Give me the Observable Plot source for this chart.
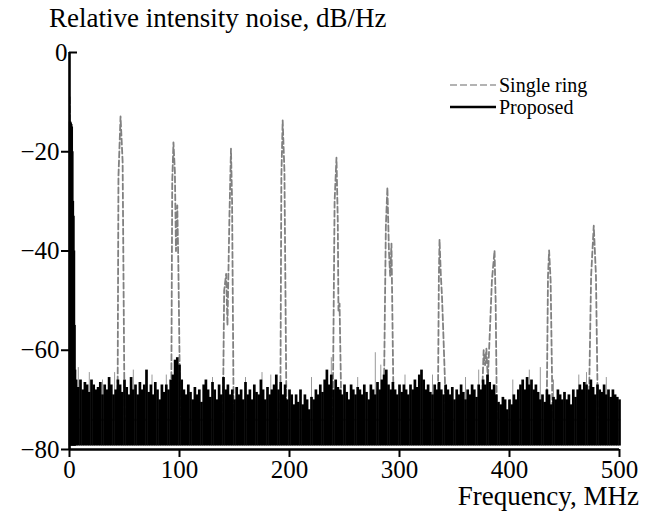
<!DOCTYPE html>
<html><head><meta charset="utf-8">
<script src="https://cdn.jsdelivr.net/npm/d3@7"></script>
<script src="https://cdn.jsdelivr.net/npm/@observablehq/plot@0.6"></script>
<style>
body{margin:0;background:#fff;}
#wrap{position:relative;width:652px;height:516px;font-family:"Liberation Serif","Times New Roman",Times,"DejaVu Serif",serif;color:#000;}
.t{position:absolute;white-space:nowrap;}
.lg{display:flex;align-items:center;height:22px;}
.lg svg{margin-right:3px;}
</style></head><body>
<div id="wrap">
  <div id="chart"></div>
  <div class="t" style="left:49px;top:3px;font-size:27px;">Relative intensity noise, dB/Hz</div>
  <div class="t" style="right:13px;top:481px;font-size:27px;">Frequency, MHz</div>
  <div class="t" id="legend" style="left:450px;top:74px;font-size:20px;"></div>
</div>
<script>
// ---- data ----
const xTicks = [0, 100, 200, 300, 400, 500];
const yTicks = [0, -20, -40, -60, -80];
const seriesNames = ["Single ring", "Proposed"];

// Single ring (grey dashed) trace: frequency (MHz) and level (dB/Hz)
const singleFreq = [
  0.3, 1.2, 2.5,
  43.5, 43.8, 44.5, 46.4, 48.3, 49.8, 50.2,
  92.3, 92.6, 93.4, 94.5, 95.8, 96.8, 98.0, 98.9, 100.3, 100.6,
  139.5, 139.8, 140.6, 142.4, 143.6, 145.4, 146.8, 147.8, 149.0, 149.3,
  191.5, 191.8, 192.6, 193.8, 195.4, 197.0, 197.3,
  239.3, 239.6, 241.0, 242.7, 243.9, 244.5, 245.5, 246.7, 247.0,
  285.8, 286.1, 287.6, 289.0, 290.4, 291.5, 292.7, 294.3, 294.6,
  334.8, 335.1, 335.8, 336.4, 337.6, 338.6, 339.6, 341.3, 341.6,
  375.3, 375.6, 376.5, 377.8, 379.0, 380.3, 382.2, 384.0, 386.4, 387.4, 388.2, 388.5,
  433.8, 434.1, 435.0, 436.0, 437.4, 438.7, 439.0,
  472.3, 472.6, 474.2, 476.6, 478.6, 479.9, 480.2,
  500
];
const singleLevel = [
  -9, -30, -74,
  -74, -66, -25, -12.9, -22, -66, -74,
  -74, -66, -26, -18.1, -24, -40, -30.8, -42, -66, -74,
  -74, -66, -48, -44.6, -55, -33, -19.4, -30, -66, -74,
  -74, -66, -25, -13.7, -24, -66, -74,
  -74, -66, -30, -21.2, -34, -52, -50.6, -66, -74,
  -74, -64, -35, -27.2, -40, -45, -38.5, -66, -74,
  -74, -66, -45, -37.7, -45, -49, -55, -66, -74,
  -74, -66, -60, -63, -59.7, -66, -56, -46, -39.9, -50, -66, -74,
  -74, -66, -45, -39.9, -46, -66, -74,
  -74, -66, -45, -34.9, -45, -66, -74,
  -74
];

// Single ring noise spikes that rise above the black band
const singleNoiseFreq = [8, 18, 30, 41, 58, 75, 88, 130, 160, 175, 183, 220, 238, 262, 278, 283, 305, 330, 360, 372, 403, 418, 428, 440, 463, 470, 488];
const singleNoiseLevel = [-63.5, -64.5, -66, -64.5, -64, -65, -65, -65.5, -65.5, -64.5, -65, -65.5, -61.5, -65.5, -60.5, -63, -65, -65, -65.5, -64, -66, -64, -63.5, -66, -65, -64.5, -65.5];

// Proposed: low-frequency spike
const proposedLowFreq = [0.3, 0.8, 1.3, 1.8, 2.3, 2.8, 3.3, 3.8, 4.3, 4.8, 5.3];
const proposedLowLevel = [-14, -14, -14.2, -14.5, -15, -20, -30, -33, -40, -55, -64];

// Proposed: noise band tops, every 2 MHz from 6 to 500 MHz
const proposedNoiseStart = 6, proposedNoiseStep = 2;
const proposedNoise = [
  -66,-67.5,-66,-68,-66.5,-67,-68.5,-66,-67,-68,
  -67.5,-66.5,-69,-67,-68,-65.5,-67,-69,-68,-66,
  -67,-68.5,-66,-67.5,-69,-65.5,-68,-67,-69,-66.5,
  -68,-67,-64,-68.5,-67,-69,-66.5,-68,-70,-67,
  -68.5,-67,-68,-66,-65,-62,-61.5,-63,-66,-68,
  -69,-67,-68.5,-70,-67.5,-69,-68,-70.5,-67,-66,
  -68,-69.5,-66.5,-68,-70,-67,-69,-65.5,-68,-67,
  -69,-68,-70,-67.5,-69,-68,-70,-66.5,-69,-68,
  -70,-67,-68.5,-69,-66,-68,-70,-67.5,-69,-68,
  -67,-65,-68,-66.5,-69,-67,-70,-68,-69,-71,
  -69,-70.5,-68,-71,-69,-70,-72,-69.5,-70,-68,
  -69,-67,-68.5,-66,-64,-67,-65,-68,-66,-67.5,
  -68,-69,-67,-68.5,-70,-67,-68,-69,-67.5,-68,
  -69,-67,-68.5,-70,-67,-68,-69,-66.5,-68,-66,
  -65,-64,-67,-68,-66.5,-68,-69,-67,-68.5,-67,
  -68,-69,-67,-68,-66,-67.5,-65,-64,-66,-68,
  -67,-68.5,-69,-67,-68,-66.5,-68,-69,-67,-68,
  -69,-67.5,-70,-68,-69,-67,-68.5,-70,-68,-69,
  -67,-68,-69.5,-67,-68,-66,-67,-65,-66.5,-68,
  -67,-69,-70.5,-71,-69.5,-70,-72,-70,-71,-69,
  -70,-68,-67,-66,-68,-65.5,-67,-66,-68,-67,
  -68.5,-70,-69,-70.5,-68,-69,-71,-69.5,-70,-68,
  -69,-70,-68.5,-70,-69,-71,-68,-69.5,-68,-67,
  -68,-66.5,-67,-68,-66,-67.5,-69,-67,-68,-68.5,
  -67,-69,-68,-69.5,-68,-69,-69.5,-70
];

// ---- tables ----
const floor = -79.3;
const singleLine = singleFreq.map((f, i) => ({f, v: singleLevel[i]}));
const singleNoise = singleNoiseFreq.map((f, i) => ({f, v: singleNoiseLevel[i]}));
const propLow = proposedLowFreq.map((f, i) => ({f, v: proposedLowLevel[i]}));
const propNoise = proposedNoise.map((v, i) => ({f: proposedNoiseStart + i * proposedNoiseStep, v}));

const font = '"Liberation Serif", "Times New Roman", Times, "DejaVu Serif", serif';
const chart = Plot.plot({
  width: 652, height: 516,
  marginLeft: 69, marginRight: 33, marginTop: 52, marginBottom: 67,
  x: {domain: [0, 500]},
  y: {domain: [-80, 0]},
  style: {fontFamily: font, fontSize: "25px", color: "#000", background: "transparent"},
  marks: [
    Plot.ruleX(singleNoise, {x: "f", y1: -74, y2: "v", stroke: "#999", strokeWidth: 1}),
    Plot.line(singleLine, {x: "f", y: "v", stroke: "#808080", strokeWidth: 1.8, strokeDasharray: "6,3", curve: "linear"}),
    Plot.ruleX(propNoise, {x: "f", y1: floor, y2: "v", stroke: "#000", strokeWidth: 2.7}),
    Plot.ruleX(propLow, {x: "f", y1: floor, y2: "v", stroke: "#000", strokeWidth: 2}),
    Plot.axisX({ticks: xTicks, tickSize: 8, tickPadding: 3, label: null, fontSize: 25, strokeWidth: 2, tickFormat: d3.format("d")}),
    Plot.axisY({ticks: yTicks.filter(d => d !== 0), tickSize: 8, tickPadding: 2, label: null, fontSize: 25, strokeWidth: 2}),
    Plot.axisY({ticks: [0], tickPadding: 10, label: null, fontSize: 25, strokeWidth: 2, tickSize: -8}),
    Plot.ruleX([0], {strokeWidth: 2.6}),
    Plot.ruleY([-80], {strokeWidth: 2.6})
  ]
});
document.getElementById("chart").appendChild(chart);

// legend
const lg = document.getElementById("legend");
const styles = [
  {stroke: "#9a9a9a", width: 1.5, dash: "7,3"},
  {stroke: "#000", width: 2.6, dash: null}
];
seriesNames.forEach((name, i) => {
  const row = document.createElement("div");
  row.className = "lg";
  const s = styles[i];
  row.innerHTML = `<svg width="46" height="10"><line x1="0" x2="46" y1="5" y2="5" stroke="${s.stroke}" stroke-width="${s.width}" ${s.dash ? `stroke-dasharray="${s.dash}"` : ""}/></svg><span>${name}</span>`;
  lg.appendChild(row);
});
</script>
</body></html>
